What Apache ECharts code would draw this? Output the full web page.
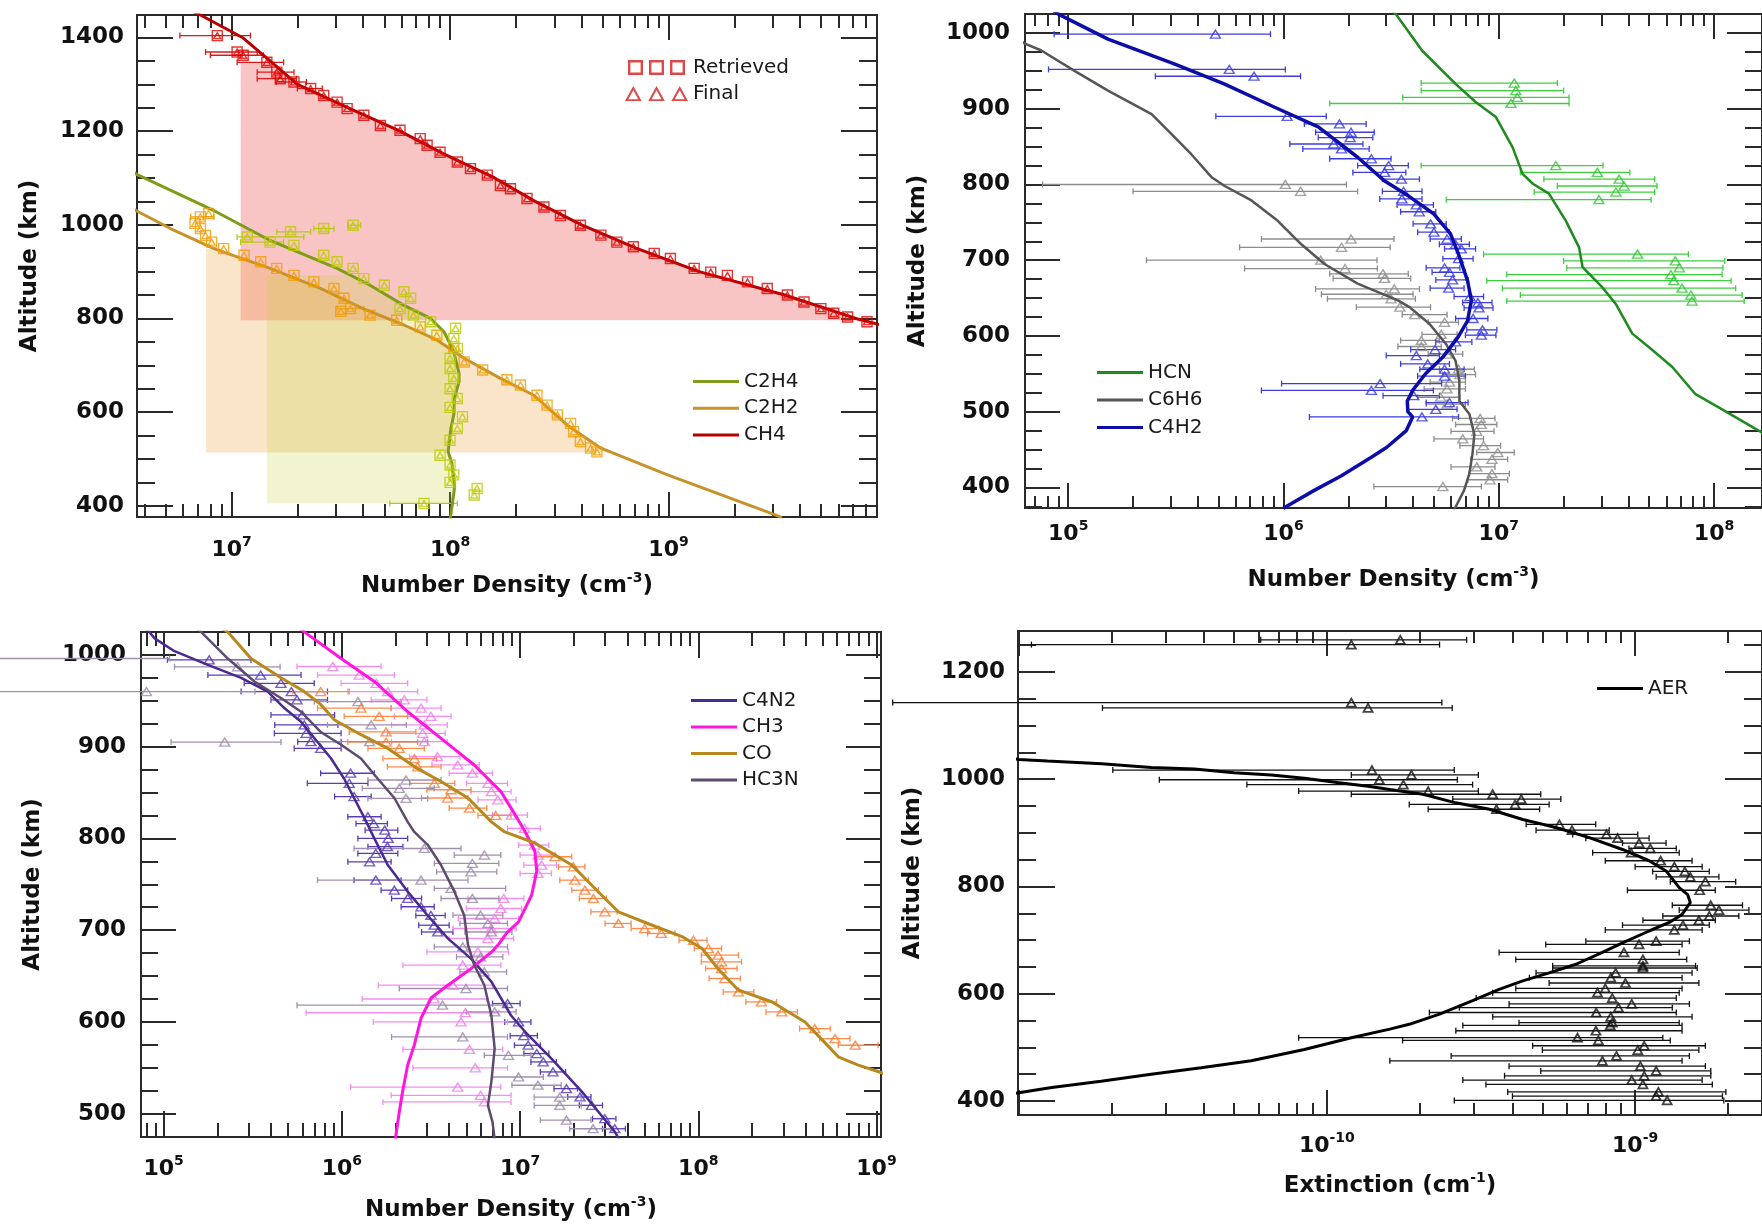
<!DOCTYPE html>
<html>
<head>
<meta charset="utf-8">
<style>
  html, body { margin: 0; padding: 0; background: #ffffff; }
  #chart { width: 1762px; height: 1229px; }
</style>
<script src="https://cdn.jsdelivr.net/npm/echarts@6/dist/echarts.min.js"></script>
</head>
<body>
<div id="chart"></div>
<script>
// ---------- Panel 1: CH4, C2H2, C2H4 (number density, cm^-3, vs altitude, km) ----------
// model profiles: [density, altitude]
const ch4Model = [[6.0e6,1465],[7.2e6,1448],[1.12e7,1400],[1.5e7,1350],[2.0e7,1300],[3.4e7,1250],[5.9e7,1200],[9.5e7,1150],[1.6e8,1100],[2.45e8,1050],[4.0e8,1000],[7.1e8,950],[1.38e9,900],[3.4e9,850],[7.2e9,800],[1.05e10,780]];
const c2h2Model = [[3.5e6,1035],[3.7e6,1029],[5.25e6,992],[8.3e6,949],[1.5e7,907],[2.55e7,864],[4.0e7,821],[6.15e7,786],[8.7e7,754],[1.16e8,715],[1.7e8,672],[2.42e8,636],[3.44e8,572],[4.9e8,523],[9.9e8,466],[2.83e9,387],[3.3e9,375]];
const c2h4Model = [[3.5e6,1115],[3.7e6,1107],[8.4e6,1029],[1.48e7,968],[3.04e7,907],[4.3e7,871],[6.15e7,828],[8.15e7,800],[9.4e7,771],[1.04e8,729],[1.1e8,682],[1.1e8,665],[1.05e8,632],[1.04e8,594],[1.01e8,566],[9.8e7,516],[1.02e8,490],[1.05e8,441],[1.01e8,383],[1.0e8,372]];
// retrieved points: [density, altitude, low, high]
const ch4Retrieved = [[8.6e6,1404,5.8e6,1.22e7],[1.06e7,1369,7.6e6,1.31e7],[1.13e7,1362,8.0e6,1.4e7],[1.45e7,1347,1.06e7,1.73e7],[1.61e7,1326,1.31e7,1.93e7],[1.67e7,1312,1.31e7,1.98e7],[1.93e7,1305,1.6e7,2.2e7],[2.3e7,1291,2.0e7,2.6e7],[2.64e7,1276],[3.04e7,1262],[3.38e7,1248],[4.03e7,1234],[4.8e7,1212],[5.9e7,1202],[7.3e7,1184],[7.85e7,1170],[9.0e7,1155],[1.08e8,1134],[1.24e8,1120],[1.48e8,1106],[1.7e8,1084],[1.89e8,1077],[2.25e8,1056],[2.69e8,1038],[3.2e8,1020],[3.95e8,999],[4.9e8,978],[5.8e8,963],[6.9e8,953],[8.6e8,939],[1.02e9,928],[1.31e9,907],[1.56e9,899],[1.86e9,892],[2.3e9,878],[2.83e9,864],[3.5e9,850],[4.17e9,835],[4.98e9,821],[5.7e9,811],[6.6e9,803],[8.1e9,793]];
const c2h2Retrieved = [[7.2e6,1017,6.5e6,8.3e6],[7.85e6,1024],[6.8e6,1003],[7.2e6,992],[7.6e6,977],[8.1e6,963],[9.2e6,949],[1.14e7,935],[1.36e7,921],[1.61e7,907],[1.93e7,892],[2.38e7,878],[2.94e7,864],[3.27e7,843],[3.5e7,821,3.04e7,4.03e7],[3.16e7,815],[4.3e7,807],[5.7e7,796],[7.3e7,782],[8.7e7,764],[1.04e8,736],[1.16e8,707],[1.41e8,690],[1.82e8,669],[2.1e8,658],[2.5e8,636],[2.78e8,615],[3.1e8,594],[3.56e8,576],[3.68e8,558],[3.95e8,537],[4.4e8,523],[4.7e8,515]];
const c2h4Retrieved = [[3.6e7,999,3.4e7,3.9e7],[2.64e7,992,2.38e7,2.94e7],[1.86e7,985,1.61e7,2.3e7],[1.18e7,974,1.06e7,2.14e7],[1.5e7,963,1.1e7,1.73e7],[1.93e7,956],[2.64e7,935],[3.04e7,921],[3.6e7,907],[4.03e7,885],[5.0e7,871],[6.15e7,857],[6.6e7,843],[5.9e7,821],[6.8e7,807],[8.15e7,793],[1.06e8,779],[1.04e8,757],[1.08e8,736],[1.0e8,715],[1.0e8,693],[1.04e8,672],[1.0e8,650],[1.08e8,629],[1.0e8,610],[1.14e8,590],[1.08e8,565],[1.0e8,540],[9.0e7,508],[1.0e8,487],[1.04e8,466],[1.0e8,450],[1.33e8,437],[1.29e8,423],[7.6e7,405,5.3e7,1.08e8]];
// shaded regions: left edge density, lower and upper altitude
const ch4Band = { left: 1.1e7, bottom: 796, top: 1347 };
const c2h2Band = { left: 7.65e6, bottom: 514, top: 949 };
const c2h4Band = { left: 1.45e7, bottom: 405, top: 892 };

// ---------- Panel 2: HCN, C6H6, C4H2 ----------
const hcnModel = [[3.1e6,1032],[3.33e6,1025],[4.4e6,977],[6.3e6,933],[7.8e6,909],[9.7e6,889],[1.16e7,849],[1.29e7,814],[1.44e7,801],[1.71e7,788],[2.05e7,752],[2.36e7,717],[2.45e7,691],[3.03e7,664],[3.5e7,642],[4.17e7,603],[4.99e7,585],[6.4e7,559],[8.2e7,523],[1.09e8,503],[1.61e8,475],[1.86e8,465]];
const c6h6Model = [[5.2e4,1000],[6.3e4,986],[7.5e4,977],[1.07e5,950],[1.53e5,924],[2.44e5,893],[2.91e5,871],[3.73e5,840],[4.62e5,810],[5.33e5,798],[7.1e5,779],[9.4e5,752],[1.21e6,721],[1.55e6,695],[2.21e6,669],[3.4e6,647],[3.85e6,638],[4.76e6,616],[5.7e6,589],[6.3e6,567],[6.56e6,541],[6.56e6,514],[7.3e6,497],[7.7e6,470],[7.55e6,444],[7.3e6,418],[6.9e6,396],[6.3e6,374],[6.2e6,370]];
const c4h2Model = [[8.5e4,1030],[9.0e4,1025],[1.53e5,992],[3.13e5,959],[5.3e5,933],[9.1e5,902],[1.45e6,876],[2.21e6,836],[2.94e6,805],[3.8e6,785],[5.0e6,761],[5.96e6,735],[6.5e6,708],[7.16e6,673],[7.46e6,647],[7.16e6,620],[6.46e6,598],[5.5e6,572],[4.57e6,550],[3.98e6,528],[3.76e6,514],[3.78e6,500],[3.98e6,493],[3.72e6,475],[3.02e6,453],[2.57e6,440],[1.85e6,415],[1.39e6,396],[1.05e6,376],[1.0e6,372]];
const hcnRetrieved = [[1.18e7,934,4.36e6,1.87e7],[1.2e7,924,4.36e6,2.0e7],[1.22e7,915,3.58e6,2.12e7],[1.14e7,907,1.64e6,2.12e7],[1.84e7,825,4.36e6,3.05e7],[2.87e7,816,1.26e7,4.06e7],[3.62e7,807,1.62e7,5.3e7],[3.82e7,798,1.87e7,5.43e7],[3.5e7,790,1.46e7,5.3e7],[2.92e7,780,5.7e6,5.1e7],[4.41e7,708,8.5e6,7.6e7],[6.6e7,699,2.0e7,1.12e8],[6.9e7,690,2.07e7,1.1e8],[6.3e7,681,1.09e7,1.09e8],[6.5e7,673,8.8e6,1.2e8],[7.1e7,663,1.04e7,1.26e8],[7.8e7,654,1.26e7,1.35e8],[7.9e7,646,1.09e7,1.38e8]];
const c6h6Retrieved = [[1.02e6,800,7.6e4,1.96e6],[1.2e6,791,2.0e5,2.21e6],[2.06e6,728,7.9e5,3.26e6],[1.86e6,717,6.25e5,3.13e6],[1.49e6,700,2.31e5,2.72e6],[1.93e6,689,6.6e5,2.73e6],[2.9e6,682,1.64e6,3.8e6],[2.95e6,676,1.7e6,3.9e6],[3.27e6,662,1.41e6,4.28e6],[3.0e6,655,1.5e6,4.0e6],[3.16e6,649,1.6e6,4.1e6],[3.47e6,638,2.18e6,4.82e6],[4.07e6,628,3.56e6,5.75e6],[5.6e6,618,4.7e6,6.5e6],[5.4e6,602,4.4e6,6.4e6],[4.37e6,594,3.5e6,5.3e6],[4.37e6,586,3.4e6,5.4e6],[5.75e6,576,4.7e6,6.8e6],[6.5e6,556,5.3e6,7.7e6],[6.6e6,549,5.5e6,7.8e6],[5.9e6,539,4.8e6,7.0e6],[5.75e6,530,4.5e6,7.0e6],[5.37e6,519,4.2e6,6.6e6],[5.75e6,510,4.6e6,7.0e6],[8.2e6,491,6.1e6,9.6e6],[8.3e6,483,6.3e6,9.8e6],[7.9e6,474,6.0e6,9.5e6],[6.8e6,464,5.0e6,8.5e6],[8.5e6,455,6.6e6,1.02e7],[9.9e6,446,7.9e6,1.18e7],[9.3e6,437,7.4e6,1.1e7],[7.9e6,427,6.0e6,9.6e6],[9.3e6,418,7.3e6,1.12e7],[9.1e6,410,7.2e6,1.1e7],[5.5e6,401,2.63e6,8.3e6]];
const c4h2Retrieved = [[4.83e5,998.5,8.6e4,8.7e5],[5.6e5,952,8.1e4,1.02e6],[7.3e5,943,2.54e5,1.2e6],[1.04e6,890,4.85e5,1.58e6],[1.82e6,880,1.25e6,2.42e6],[2.06e6,869,1.41e6,2.64e6],[2.04e6,862,1.45e6,2.6e6],[1.71e6,853.5,1.07e6,2.34e6],[1.86e6,847,1.23e6,2.5e6],[2.56e6,834,1.64e6,3.16e6],[3.08e6,825,2.21e6,3.8e6],[2.95e6,816,2.1e6,3.7e6],[3.53e6,807,2.88e6,4.28e6],[3.61e6,791,2.88e6,4.4e6],[3.55e6,781,2.8e6,4.4e6],[4.14e6,773,3.37e6,4.97e6],[4.27e6,764,3.5e6,5.1e6],[4.82e6,748,4.0e6,5.7e6],[5.0e6,737,4.2e6,5.9e6],[5.75e6,728,4.8e6,6.7e6],[6.3e6,721,5.3e6,7.3e6],[6.7e6,715,5.6e6,7.8e6],[6.5e6,702,5.5e6,7.6e6],[5.6e6,690,4.6e6,6.6e6],[5.9e6,684,4.9e6,7.0e6],[6.1e6,674,5.1e6,7.2e6],[5.85e6,663,4.8e6,6.9e6],[7.35e6,652,6.2e6,8.5e6],[8.0e6,644,6.8e6,9.3e6],[8.1e6,637,6.9e6,9.4e6],[7.6e6,623,6.3e6,8.9e6],[8.4e6,608,7.1e6,9.8e6],[8.3e6,601,7.0e6,9.7e6],[6.3e6,592,5.1e6,7.5e6],[5.06e6,582,3.9e6,6.3e6],[4.14e6,574,3.0e6,5.3e6],[4.68e6,563,3.5e6,5.9e6],[5.6e6,556,4.3e6,6.9e6],[5.6e6,547,4.2e6,7.0e6],[2.81e6,537,9.8e5,5.43e6],[2.56e6,528,7.9e5,4.97e6],[4.03e6,521,2.9e6,5.3e6],[5.9e6,512,4.6e6,7.2e6],[5.1e6,503,3.8e6,6.4e6],[4.4e6,493,1.32e6,6.5e6]];

// ---------- Panel 3: C4N2, CH3, CO, HC3N ----------
const c4n2Model = [[7.9e4,1030],[8.9e4,1018],[1.15e5,1004],[1.77e5,989],[2.72e5,975],[3.84e5,960],[4.75e5,942],[5.9e5,927],[7.3e5,905],[8.7e5,887],[1.03e6,865],[1.17e6,844],[1.34e6,822],[1.52e6,800],[1.81e6,771],[2.34e6,742],[3.03e6,716],[3.93e6,691],[5.3e6,669],[6.9e6,644],[8.9e6,607],[1.07e7,589],[1.5e7,560],[2.22e7,524],[3.41e7,480],[3.6e7,472]];
const ch3Model = [[5.5e5,1032],[6.15e5,1025],[9.9e5,996],[1.52e6,971],[2.34e6,938],[3.6e6,909],[5.53e6,880],[7.8e6,851],[9.1e6,830],[1.07e7,807],[1.21e7,786],[1.24e7,764],[1.16e7,738],[9.8e6,709],[8.5e6,698],[7.6e6,685],[6.9e6,676],[5.3e6,658],[3.93e6,640],[3.16e6,626],[2.78e6,604],[2.55e6,575],[2.34e6,553],[2.19e6,524],[2.1e6,502],[2.01e6,477],[2.0e6,472]];
const coModel = [[2.0e5,1032],[2.29e5,1025],[3.09e5,996],[4.55e5,975],[6.15e5,960],[7.6e5,946],[9.1e5,929],[1.28e6,913],[1.81e6,898],[2.66e6,876],[3.6e6,862],[5.1e6,844],[6.9e6,818],[8.2e6,807],[1.21e7,795],[1.95e7,771],[2.87e7,738],[3.56e7,720],[5.25e7,707],[8.1e7,693],[1.05e8,680],[1.29e8,658],[1.67e8,635],[2.58e8,622],[3.97e8,600],[5.1e8,578],[6.1e8,562],[7.9e8,553],[1.02e9,546],[1.2e9,541]];
const hc3nModel = [[1.45e5,1032],[1.62e5,1025],[2.29e5,996],[3.23e5,971],[4.55e5,953],[5.9e5,938],[7.6e5,916],[9.9e5,902],[1.28e6,887],[1.59e6,865],[1.97e6,844],[2.34e6,818],[2.55e6,807],[3.03e6,793],[3.6e6,771],[4.28e6,742],[4.86e6,716],[5.1e6,684],[5.53e6,662],[6.3e6,640],[6.9e6,607],[7.2e6,571],[6.9e6,535],[6.6e6,509],[7.0e6,491],[7.2e6,472]];
const c4n2Retrieved = [[1.8e5,994.5,1.05e5,3.09e5],[3.5e5,978,1.77e5,5.9e5],[4.55e5,969,2.83e5,7.0e5],[5.2e5,960,2.72e5,8.3e5],[5.6e5,951,4.0e5,8.3e5],[6.0e5,934.5,4.0e5,9.1e5],[6.15e5,923.6,4.2e5,9.5e5],[6.3e5,914.5,4.18e5,9.9e5],[6.7e5,905.4,5.65e5,9.9e5],[7.6e5,898,5.4e5,9.9e5],[1.12e6,871,7.6e5,1.52e6],[1.1e6,860,6.4e5,1.4e6],[1.17e6,845.6,9.1e5,1.46e6],[1.4e6,823.6,1.08e6,1.66e6],[1.51e6,816,1.2e6,1.8e6],[1.74e6,809,1.35e6,2.06e6],[1.82e6,800,1.23e6,2.34e6],[1.8e6,791,1.4e6,2.2e6],[1.55e6,783.6,1.23e6,2.06e6],[1.43e6,774.5,1.08e6,1.89e6],[1.55e6,754.5,1.17e6,2.15e6],[1.97e6,743.6,1.66e6,2.34e6],[2.34e6,734.5,1.9e6,2.8e6],[2.78e6,725.5,2.15e6,3.3e6],[3.16e6,716,2.6e6,3.8e6],[3.3e6,705.4,2.7e6,4.0e6],[3.45e6,698,2.8e6,4.2e6],[8.5e6,620,7.0e6,1.0e7],[9.8e6,600,8.2e6,1.15e7],[1.05e7,585,8.8e6,1.25e7],[1.11e7,574.6,9.3e6,1.3e7],[1.24e7,565.5,1.05e7,1.45e7],[1.35e7,556.4,1.15e7,1.6e7],[1.53e7,545.5,1.3e7,1.8e7],[1.82e7,527.3,1.55e7,2.1e7],[2.17e7,518.2,1.85e7,2.5e7],[2.52e7,509.1,2.15e7,2.9e7],[2.99e7,494.5,2.55e7,3.45e7],[3.4e7,483.6,2.9e7,3.9e7]];
const ch3Retrieved = [[8.9e5,987.3,5.6e5,1.66e6],[1.25e6,978,7.3e5,1.97e6],[1.56e6,969,9.9e5,2.34e6],[1.81e6,960,1.08e6,2.66e6],[2.24e6,951,1.46e6,3.0e6],[2.78e6,942,1.89e6,3.6e6],[3.16e6,933,1.97e6,4.1e6],[2.9e6,923.6,1.9e6,3.9e6],[2.84e6,914.5,1.8e6,3.8e6],[2.9e6,905.4,1.9e6,3.9e6],[3.44e6,889,2.4e6,4.6e6],[4.47e6,880,3.2e6,5.9e6],[5.4e6,871,4.0e6,7.0e6],[6.6e6,860,5.0e6,8.5e6],[6.9e6,851,5.3e6,8.9e6],[7.5e6,842,5.8e6,9.5e6],[8.95e6,825.4,7.0e6,1.1e7],[1.06e7,810.8,8.5e6,1.3e7],[1.21e7,792.7,9.8e6,1.45e7],[1.26e7,781.8,1.0e7,1.5e7],[1.32e7,770.9,1.05e7,1.6e7],[1.26e7,761.8,1.0e7,1.5e7],[8.1e6,734.5,5.1e6,1.05e7],[7.8e6,723.6,5.0e6,1.02e7],[7.2e6,712.7,4.5e6,9.8e6],[6.9e6,701.8,4.2e6,9.5e6],[6.6e6,690.9,4.0e6,9.2e6],[5.8e6,676.4,3.0e6,8.6e6],[4.77e6,661.8,2.2e6,7.8e6],[4.2e6,640,1.6e6,7.0e6],[3.3e6,625,1.3e6,6.5e6],[4.93e6,610,6.3e5,7.6e6],[4.66e6,600,1.5e6,8.5e6],[5.2e6,570,2.2e6,8.0e6],[5.6e6,550,2.5e6,8.5e6],[4.47e6,529,1.12e6,7.8e6],[6.0e6,520,1.89e6,8.9e6],[6.3e6,512.8,1.7e6,8.9e6]];
const coRetrieved = [[7.6e5,960,5.3e5,1.1e6],[1.28e6,942,7.3e5,1.89e6],[1.62e6,933,1.03e6,2.34e6],[1.77e6,916,1.1e6,2.6e6],[1.77e6,905,1.08e6,2.66e6],[2.1e6,898,1.4e6,2.9e6],[2.55e6,887,1.7e6,3.4e6],[2.66e6,878,1.8e6,3.6e6],[3.3e6,860,2.4e6,4.3e6],[4.1e6,853,3.0e6,5.3e6],[3.92e6,844,2.8e6,5.1e6],[5.2e6,833,4.0e6,6.5e6],[7.3e6,825,5.8e6,8.9e6],[1.57e7,780,1.21e7,1.95e7],[1.99e7,769,1.64e7,2.31e7],[2.03e7,754.5,1.67e7,2.42e7],[2.31e7,743.6,1.95e7,2.75e7],[2.58e7,734.5,2.15e7,3.05e7],[2.99e7,720,2.5e7,3.5e7],[3.56e7,707.3,3.0e7,4.2e7],[5.0e7,701.8,4.2e7,6.0e7],[6.2e7,696.4,5.2e7,7.4e7],[9.4e7,689,7.8e7,1.12e8],[1.14e8,680,9.5e7,1.35e8],[1.29e8,672.7,1.04e8,1.68e8],[1.35e8,665.5,1.04e8,1.75e8],[1.35e8,658.2,1.1e8,1.65e8],[1.41e8,647.3,1.15e8,1.72e8],[1.68e8,632.7,1.38e8,2.05e8],[2.26e8,621.8,1.85e8,2.75e8],[2.94e8,610.9,2.4e8,3.6e8],[4.5e8,592.7,3.7e8,5.5e8],[5.85e8,581.8,4.8e8,7.1e8],[7.6e8,574.6,6.1e8,1.02e9]];
const hc3nRetrieved = [[6.0e4,996,1.0e4,1.08e5],[8.0e4,960,1.0e4,3.25e5],[2.6e5,987,1.15e5,4.5e5],[2.2e5,905,1.1e5,4.55e5],[1.23e6,949,7.0e5,2.15e6],[1.46e6,923.6,8.3e5,2.3e6],[1.43e6,905.4,7.0e5,3.03e6],[2.29e6,863.6,1.4e6,3.6e6],[2.1e6,854.5,1.3e6,3.3e6],[2.29e6,843.6,1.4e6,3.03e6],[2.9e6,789,1.17e6,4.66e6],[6.3e6,781.8,4.27e6,7.8e6],[5.4e6,772.7,3.3e6,7.6e6],[5.3e6,763.6,3.4e6,7.4e6],[2.78e6,754.5,7.3e5,5.1e6],[4.1e6,745.5,3.3e6,8.3e6],[5.4e6,734.5,3.6e6,7.6e6],[6.0e6,716.4,4.2e6,8.0e6],[6.6e6,707.3,4.6e6,8.5e6],[6.9e6,698,4.9e6,9.0e6],[4.77e6,681.8,3.3e6,8.5e6],[6.0e6,670.9,4.4e6,8.0e6],[6.3e6,654.5,4.6e6,8.4e6],[4.97e6,636.4,2.1e6,8.5e6],[3.67e6,618.2,5.6e5,8.5e6],[7.2e6,611,5.0e6,9.5e6],[4.77e6,583.6,1.9e6,8.5e6],[8.6e6,563.6,6.3e6,1.15e7],[9.8e6,540,7.0e6,1.35e7],[1.26e7,531,9.0e6,1.7e7],[1.67e7,518,1.2e7,2.2e7],[1.67e7,509,1.2e7,2.2e7],[1.82e7,493,1.3e7,2.5e7],[2.57e7,483.6,1.9e7,3.3e7]];

// ---------- Panel 4: aerosol extinction (cm^-1) ----------
const aerModel = [[8.9e-12,1040],[1.0e-11,1037],[1.24e-11,1034],[1.86e-11,1029],[2.69e-11,1022],[3.72e-11,1019],[5.0e-11,1012],[6.6e-11,1008],[8.45e-11,1002],[1.08e-10,994],[1.36e-10,987],[1.6e-10,981],[2.05e-10,972],[2.62e-10,956],[3.37e-10,944],[4.32e-10,925],[5.53e-10,910],[7.1e-10,891],[9.1e-10,869],[1.11e-9,848],[1.26e-9,829],[1.39e-9,798],[1.48e-9,785],[1.51e-9,770],[1.42e-9,748],[1.29e-9,733],[1.11e-9,717],[9.1e-10,695],[7.83e-10,677],[6.43e-10,655],[5.26e-10,639],[4.32e-10,624],[3.62e-10,608],[2.97e-10,587],[2.32e-10,562],[1.85e-10,543],[1.6e-10,534],[1.2e-10,518],[8.45e-11,496],[5.68e-11,475],[3.91e-11,462],[2.69e-11,450],[1.85e-11,437],[1.28e-11,425],[1.0e-11,415.5],[9.0e-12,410]];
const aerRetrieved = [[1.73e-10,1260,6.1e-11,2.84e-10],[1.2e-10,1251,1.1e-11,2.32e-10],[1.2e-10,1143,3.9e-12,2.36e-10],[1.36e-10,1133,1.87e-11,2.55e-10],[1.4e-10,1017,2.02e-11,2.59e-10],[1.88e-10,1008,1.2e-10,3.1e-10],[1.48e-10,999,2.86e-11,2.65e-10],[1.77e-10,990,5.5e-11,2.97e-10],[2.13e-10,978,8.1e-11,3.1e-10],[3.45e-10,972,1.2e-10,4.94e-10],[4.27e-10,963,2.56e-10,5.74e-10],[4.08e-10,953,1.85e-10,5.26e-10],[3.55e-10,944,2.13e-10,4.9e-10],[5.68e-10,916,4.43e-10,7.45e-10],[6.24e-10,905,4.77e-10,8.24e-10],[8.07e-10,897,6.27e-10,1.02e-9],[8.77e-10,890,6.92e-10,1.11e-9],[1.03e-9,881,9.1e-10,1.26e-9],[1.12e-9,871,9.55e-10,1.36e-9],[9.7e-10,863,7.28e-10,1.39e-9],[1.21e-9,848,8.0e-10,1.53e-9],[1.34e-9,837,1.0e-9,1.65e-9],[1.45e-9,828,1.14e-9,1.74e-9],[1.51e-9,818,1.17e-9,1.87e-9],[1.69e-9,809,1.3e-9,2.12e-9],[1.62e-9,793,9.44e-10,1.82e-9],[1.76e-9,765,1.32e-9,2.23e-9],[1.87e-9,756,1.39e-9,2.34e-9],[1.74e-9,745,1.23e-9,2.17e-9],[1.61e-9,737,1.06e-9,1.82e-9],[1.43e-9,728,9.1e-10,1.74e-9],[1.34e-9,719,8.0e-10,1.65e-9],[1.17e-9,698,6.92e-10,1.5e-9],[1.03e-9,692,5.13e-10,1.42e-9],[9.2e-10,677,3.62e-10,1.39e-9],[1.06e-9,664,4.1e-10,1.47e-9],[1.06e-9,652,5.4e-10,1.57e-9],[1.06e-9,648,5.4e-10,1.59e-9],[8.65e-10,639,4.77e-10,1.53e-9],[8.34e-10,630,4.54e-10,1.42e-9],[9.3e-10,620,5.26e-10,1.61e-9],[8.0e-10,610,4.1e-10,1.42e-9],[7.55e-10,602,3.45e-10,1.39e-9],[8.43e-10,592,3.05e-10,1.36e-9],[9.75e-10,581,3.9e-10,1.5e-9],[8.83e-10,574,2.69e-10,1.32e-9],[7.48e-10,565,2.15e-10,1.36e-9],[8.34e-10,557,3.45e-10,1.53e-9],[8.43e-10,546,4.2e-10,1.39e-9],[8.3e-10,541,2.76e-10,1.42e-9],[7.46e-10,531,2.62e-10,1.42e-9],[6.5e-10,518,8.1e-11,1.23e-9],[7.6e-10,513,1.76e-10,1.3e-9],[1.07e-9,503,4.65e-10,1.69e-9],[1.02e-9,495,5.0e-10,1.61e-9],[8.7e-10,484,2.53e-10,1.5e-9],[7.83e-10,475,1.6e-10,1.42e-9],[1.04e-9,465,3.9e-10,1.69e-9],[1.17e-9,456,4.94e-10,1.76e-9],[1.07e-9,447,3.77e-10,1.76e-9],[9.75e-10,439,2.76e-10,1.65e-9],[1.06e-9,431,3.28e-10,1.78e-9],[1.19e-9,417,3.86e-10,1.97e-9],[1.17e-9,409,4.0e-10,1.92e-9],[1.27e-9,401,2.59e-10,1.94e-9]];

// ---------- tick labels ----------
const p1XLabels = [1e7, 1e8, 1e9];
const p1YLabels = [400, 600, 800, 1000, 1200, 1400];
const p2XLabels = [1e5, 1e6, 1e7, 1e8];
const p2YLabels = [400, 500, 600, 700, 800, 900, 1000];
const p3XLabels = [1e5, 1e6, 1e7, 1e8, 1e9];
const p3YLabels = [500, 600, 700, 800, 900, 1000];
const p4XLabels = [1e-10, 1e-9];
const p4YLabels = [400, 600, 800, 1000, 1200];

// ---------- helpers ----------
const FONT = 'DejaVu Sans';
const TICK = { color: '#2a2a2a', width: 2 };

function majorLogTicks(lo, hi) {
  const out = [];
  for (let e = Math.floor(Math.log10(lo)); e <= Math.ceil(Math.log10(hi)); e++) {
    const v = Math.pow(10, e);
    if (v >= lo && v <= hi) out.push(v);
  }
  return out;
}
function minorLogTicks(lo, hi) {
  const out = [];
  for (let e = Math.floor(Math.log10(lo)) - 1; e <= Math.ceil(Math.log10(hi)); e++) {
    for (let m = 2; m <= 9; m++) {
      const v = m * Math.pow(10, e);
      if (v > lo && v < hi) out.push(v);
    }
  }
  return out;
}
function linearMinor(lo, hi, step, majors) {
  const out = [];
  for (let v = Math.ceil(lo / step) * step; v <= hi; v += step) {
    if (majors.indexOf(v) < 0) out.push(v);
  }
  return out;
}
function logInterp(model, alt) {
  for (let i = 0; i < model.length - 1; i++) {
    const a = model[i], b = model[i + 1];
    if ((a[1] - alt) * (b[1] - alt) <= 0) {
      const t = a[1] === b[1] ? 0 : (a[1] - alt) / (a[1] - b[1]);
      const la = Math.log10(a[0]), lb = Math.log10(b[0]);
      return Math.pow(10, la + t * (lb - la));
    }
  }
  return model[model.length - 1][0];
}
function bandPolygon(model, band) {
  const pts = [[band.left, band.bottom], [band.left, band.top], [logInterp(model, band.top), band.top]];
  model.forEach(p => { if (p[1] < band.top && p[1] > band.bottom) pts.push([p[0], p[1]]); });
  pts.push([logInterp(model, band.bottom), band.bottom]);
  return pts;
}

const LABEL_RICH = {
  b: { fontFamily: FONT, fontSize: 22, fontWeight: 'bold', color: '#111', lineHeight: 30 },
  s: { fontFamily: FONT, fontSize: 14, fontWeight: 'bold', color: '#111', lineHeight: 16, verticalAlign: 'top' }
};
const NAME_RICH = {
  t: { fontFamily: FONT, fontSize: 23, fontWeight: 'bold', color: '#111', lineHeight: 30 },
  s: { fontFamily: FONT, fontSize: 14, fontWeight: 'bold', color: '#111', lineHeight: 16, verticalAlign: 'top' }
};
function powLabel(v) {
  const e = Math.round(Math.log10(v));
  return '{b|10}{s|' + e + '}';
}

const xAxes = [], yAxes = [];
function addPanelAxes(g, c) {
  const xMaj = majorLogTicks(c.xMin, c.xMax);
  const xMin = minorLogTicks(c.xMin, c.xMax);
  const yMin = linearMinor(c.yMin, c.yMax, c.yStep, c.yLabels);
  const xb = { gridIndex: g, type: 'log', logBase: 10, min: c.xMin, max: c.xMax, silent: true,
    splitLine: { show: false }, minorTick: { show: false }, minorSplitLine: { show: false },
    axisLine: { show: false, onZero: false }, axisLabel: { show: false } };
  const yb = { gridIndex: g, type: 'value', min: c.yMin, max: c.yMax, silent: true,
    splitLine: { show: false }, minorTick: { show: false }, minorSplitLine: { show: false },
    axisLine: { show: false, onZero: false }, axisLabel: { show: false } };
  const tick = (vals, len) => ({ show: true, inside: true, length: len, customValues: vals, lineStyle: TICK });
  xAxes.push(Object.assign({}, xb, {
    position: 'bottom', axisTick: tick(xMaj, c.xMajLen),
    axisLabel: { show: true, customValues: c.xLabels, formatter: powLabel, rich: LABEL_RICH, margin: c.xLabelMargin },
    name: c.xName, nameLocation: 'middle', nameGap: c.xNameGap,
    nameTextStyle: { fontFamily: FONT, fontSize: 23, fontWeight: 'bold', color: '#111', rich: NAME_RICH }
  }));
  xAxes.push(Object.assign({}, xb, { position: 'bottom', axisTick: tick(xMin, c.xMinLen) }));
  xAxes.push(Object.assign({}, xb, { position: 'top', axisTick: tick(xMaj, c.xMajLen) }));
  xAxes.push(Object.assign({}, xb, { position: 'top', axisTick: tick(xMin, c.xMinLen) }));
  yAxes.push(Object.assign({}, yb, {
    position: 'left', axisTick: tick(c.yLabels, c.yMajLen),
    axisLabel: { show: true, customValues: c.yLabels, formatter: v => String(v), margin: c.yLabelMargin,
      fontFamily: FONT, fontSize: 23, fontWeight: 'bold', color: '#111' },
    name: 'Altitude (km)', nameLocation: 'middle', nameGap: c.yNameGap, nameRotate: 90,
    nameTextStyle: { fontFamily: FONT, fontSize: 23, fontWeight: 'bold', color: '#111' }
  }));
  yAxes.push(Object.assign({}, yb, { position: 'left', axisTick: tick(yMin, c.yMinLen) }));
  yAxes.push(Object.assign({}, yb, { position: 'right', axisTick: tick(c.yLabels, c.yMajLen) }));
  yAxes.push(Object.assign({}, yb, { position: 'right', axisTick: tick(yMin, c.yMinLen) }));
}

const DENS = '{t|Number Density (cm}{s|-3}{t|)}';
addPanelAxes(0, { xMin: 3.69e6, xMax: 9.0e9, yMin: 376, yMax: 1448, yStep: 50, xLabels: p1XLabels, yLabels: p1YLabels,
  xName: DENS, xNameGap: 54, xLabelMargin: 18, yNameGap: 95, yLabelMargin: 13, xMajLen: 25, xMinLen: 13, yMajLen: 36, yMinLen: 18 });
addPanelAxes(1, { xMin: 6.3e4, xMax: 1.67e8, yMin: 372.7, yMax: 1025.2, yStep: 25, xLabels: p2XLabels, yLabels: p2YLabels,
  xName: DENS, xNameGap: 57, xLabelMargin: 11, yNameGap: 95, yLabelMargin: 15, xMajLen: 25, xMinLen: 12, yMajLen: 35, yMinLen: 17 });
addPanelAxes(2, { xMin: 7.46e4, xMax: 1.06e9, yMin: 474.6, yMax: 1024.9, yStep: 25, xLabels: p3XLabels, yLabels: p3YLabels,
  xName: DENS, xNameGap: 58, xLabelMargin: 17, yNameGap: 96, yLabelMargin: 15, xMajLen: 26, xMinLen: 14, yMajLen: 35, yMinLen: 17 });
addPanelAxes(3, { xMin: 9.95e-12, xMax: 2.58e-9, yMin: 373.9, yMax: 1276.4, yStep: 50, xLabels: p4XLabels, yLabels: p4YLabels,
  xName: '{t|Extinction (cm}{s|-1}{t|)}', xNameGap: 56, xLabelMargin: 16, yNameGap: 93, yLabelMargin: 13, xMajLen: 25, xMinLen: 12, yMajLen: 37, yMinLen: 18 });

// ---------- series builders ----------
function errorBars(g, data, color, z) {
  return {
    type: 'custom', xAxisIndex: g * 4, yAxisIndex: g * 4, clip: false, silent: true, z: z || 2,
    data: data.filter(d => d.length >= 4),
    renderItem: function (params, api) {
      const y = api.value(1);
      const a = api.coord([api.value(2), y]);
      const b = api.coord([api.value(3), y]);
      const st = { stroke: color, lineWidth: 1.3 };
      return { type: 'group', children: [
        { type: 'line', shape: { x1: a[0], y1: a[1], x2: b[0], y2: b[1] }, style: st },
        { type: 'line', shape: { x1: a[0], y1: a[1] - 3, x2: a[0], y2: a[1] + 3 }, style: st },
        { type: 'line', shape: { x1: b[0], y1: b[1] - 3, x2: b[0], y2: b[1] + 3 }, style: st }
      ] };
    }
  };
}
function markers(g, name, data, symbol, size, color, z, bw) {
  return {
    type: 'scatter', name: name, xAxisIndex: g * 4, yAxisIndex: g * 4, silent: true, z: z || 3,
    data: data.map(d => [d[0], d[1]]), symbol: symbol, symbolSize: size,
    itemStyle: { color: 'rgba(255,255,255,0)', borderColor: color, borderWidth: bw || 1.4 },
    emphasis: { disabled: true }
  };
}
function profile(g, name, data, color, width, z) {
  return {
    type: 'line', name: name, xAxisIndex: g * 4, yAxisIndex: g * 4, silent: true, z: z || 4,
    data: data, showSymbol: false, symbol: 'none',
    lineStyle: { color: color, width: width }, itemStyle: { color: color },
    emphasis: { disabled: true }
  };
}
function band(g, model, b, fill) {
  const pts = bandPolygon(model, b);
  return {
    type: 'custom', xAxisIndex: g * 4, yAxisIndex: g * 4, silent: true, z: 1,
    data: [[b.left, b.bottom]],
    renderItem: function (params, api) {
      return { type: 'polygon', shape: { points: pts.map(p => api.coord(p)) }, style: { fill: fill } };
    }
  };
}

const series = [
  // panel 1
  band(0, ch4Model, ch4Band, 'rgba(238,100,100,0.38)'),
  band(0, c2h2Model, c2h2Band, 'rgba(240,170,80,0.30)'),
  band(0, c2h4Model, c2h4Band, 'rgba(200,210,60,0.25)'),
  errorBars(0, ch4Retrieved, '#d81a1a'),
  errorBars(0, c2h2Retrieved, '#f0a020'),
  errorBars(0, c2h4Retrieved, '#b8c820'),
  profile(0, 'CH4', ch4Model, '#b80000', 3, 2.5),
  profile(0, 'C2H2', c2h2Model, '#c8922a', 3, 2.5),
  profile(0, 'C2H4', c2h4Model, '#7f9c18', 3, 2.5),
  markers(0, 'Retrieved', ch4Retrieved, 'rect', 10, '#e00000'),
  markers(0, 'Retrieved', c2h2Retrieved, 'rect', 10, '#f39c00'),
  markers(0, 'Retrieved', c2h4Retrieved, 'rect', 10, '#bccc00'),
  markers(0, 'Final', ch4Retrieved, 'triangle', [7, 6], '#e00000'),
  markers(0, 'Final', c2h2Retrieved, 'triangle', [7, 6], '#f39c00'),
  markers(0, 'Final', c2h4Retrieved, 'triangle', [7, 6], '#bccc00'),
  // panel 2
  errorBars(1, hcnRetrieved, '#3ccf3c'),
  errorBars(1, c6h6Retrieved, '#8c8c8c'),
  errorBars(1, c4h2Retrieved, '#3c3ce0'),
  markers(1, 'hcn-ret', hcnRetrieved, 'triangle', [10, 8], '#2fc42f'),
  markers(1, 'c6h6-ret', c6h6Retrieved, 'triangle', [10, 8], '#8c8c8c'),
  markers(1, 'c4h2-ret', c4h2Retrieved, 'triangle', [10, 8], '#3434e0'),
  profile(1, 'HCN', hcnModel, '#1f8a1f', 2.5),
  profile(1, 'C6H6', c6h6Model, '#555555', 2.5),
  profile(1, 'C4H2', c4h2Model, '#0c0ca8', 3.5),
  // panel 3
  errorBars(2, c4n2Retrieved, '#5a3cb8'),
  errorBars(2, ch3Retrieved, '#f38ef0'),
  errorBars(2, coRetrieved, '#ff8a4a'),
  errorBars(2, hc3nRetrieved, '#a08fae'),
  markers(2, 'c4n2-ret', c4n2Retrieved, 'triangle', [10, 8], '#5236b4'),
  markers(2, 'ch3-ret', ch3Retrieved, 'triangle', [10, 8], '#ee7aea'),
  markers(2, 'co-ret', coRetrieved, 'triangle', [10, 8], '#ff7a30'),
  markers(2, 'hc3n-ret', hc3nRetrieved, 'triangle', [10, 8], '#9a88a8'),
  profile(2, 'C4N2', c4n2Model, '#4a2a90', 2.5),
  profile(2, 'CH3', ch3Model, '#ff14e0', 3),
  profile(2, 'CO', coModel, '#b8881c', 3),
  profile(2, 'HC3N', hc3nModel, '#5e4a6e', 2.5),
  // panel 4
  errorBars(3, aerRetrieved, '#111111'),
  markers(3, 'aer-ret', aerRetrieved, 'triangle', [9, 8], '#111111', 3, 1.8),
  profile(3, 'AER', aerModel, '#000000', 3)
];

// ---------- legends ----------
const LEG_TEXT = { fontFamily: FONT, fontSize: 20, color: '#1a1a1a', lineHeight: 20 };
function lineLegend(names, left, top, gap) {
  return { orient: 'vertical', left: left, top: top, icon: 'rect', itemWidth: 46, itemHeight: 3,
    itemGap: gap, selectedMode: false, data: names, textStyle: LEG_TEXT, padding: 0 };
}
const squaresIcon = 'path://M0,0H10V10H0Z M1.6,1.6V8.4H8.4V1.6Z M14,0H24V10H14Z M15.6,1.6V8.4H22.4V1.6Z M28,0H38V10H28Z M29.6,1.6V8.4H36.4V1.6Z';
const trianglesIcon = 'path://M0,9L5,0L10,9Z M2,8L8,8L5,2.6Z M14,9L19,0L24,9Z M16,8L22,8L19,2.6Z M28,9L33,0L38,9Z M30,8L36,8L33,2.6Z';

const legends = [
  { orient: 'vertical', left: 625, top: 57.5, itemWidth: 63, itemHeight: 15, itemGap: 6, selectedMode: false, padding: 0,
    textStyle: LEG_TEXT,
    data: [
      { name: 'Retrieved', icon: squaresIcon, itemStyle: { color: '#d41c1c', borderWidth: 0 } },
      { name: 'Final', icon: trianglesIcon, itemStyle: { color: '#d41c1c', borderWidth: 0 } }
    ] },
  lineLegend(['C2H4', 'C2H2', 'CH4'], 693, 371.5, 6.7),
  lineLegend(['HCN', 'C6H6', 'C4H2'], 1097, 362.5, 7.5),
  lineLegend(['C4N2', 'CH3', 'CO', 'HC3N'], 691, 690.5, 6.5),
  lineLegend(['AER'], 1597, 678.5, 6)
];

const chart = echarts.init(document.getElementById('chart'), null, { renderer: 'canvas' });
chart.setOption({
  backgroundColor: '#ffffff',
  animation: false,
  grid: [
    { left: 137, top: 15, width: 740, height: 502, show: true, borderColor: '#2a2a2a', borderWidth: 2, backgroundColor: 'transparent' },
    { left: 1025, top: 14, width: 738, height: 494, show: true, borderColor: '#2a2a2a', borderWidth: 2, backgroundColor: 'transparent' },
    { left: 141, top: 632, width: 740, height: 505, show: true, borderColor: '#2a2a2a', borderWidth: 2, backgroundColor: 'transparent' },
    { left: 1018, top: 631, width: 745, height: 484, show: true, borderColor: '#2a2a2a', borderWidth: 2, backgroundColor: 'transparent' }
  ],
  xAxis: xAxes,
  yAxis: yAxes,
  legend: legends,
  series: series
});
</script>
</body>
</html>
